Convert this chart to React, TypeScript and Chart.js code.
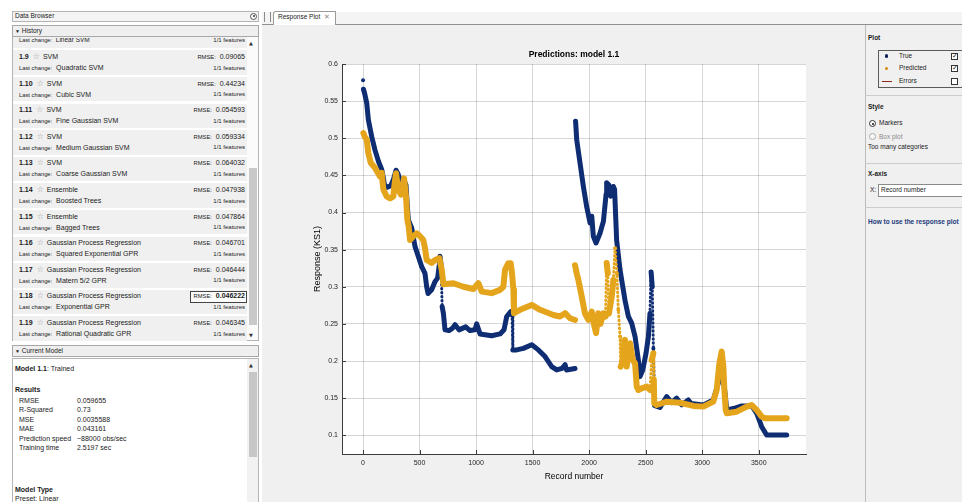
import React, { useEffect, useRef } from "react";
import { Chart, registerables } from "chart.js";
Chart.register(...registerables);

const FONT = '"Liberation Sans", Arial, Helvetica, sans-serif';

// ---------- chart data ----------
const trueRecord = [
  0, null, 4, 15, 33, 47, 77, 106, 136, 165, 177, 190, 215, 245, 270, 292, 310, 327, 357, 380, 392, 401, 431, 460, 489, 519, 548,
  563, 575, 607, 637, 660, 675, 681, 690, 700, 711, 725, 760, 790, 814, 849, 908, 946, 990, 1005, 1035, 1138, 1212, 1247,
  1271, 1306, 1318, 1325, 1359, 1418, 1492, 1551, 1610, 1669, 1713, 1760, 1787, 1800, 1875, null,
  1880, 1890, 1919, 1949, 1978, 2008, 2023, 2037, 2061, 2096, 2126, 2150, 2155, 2175, 2190, 2214, 2225, 2243, 2273, 2288,
  2317, 2347, 2376, 2406, 2435, 2450, 2474, 2503, 2524, 2538, 2548, 2558, 2568, 2580, 2627, 2686, 2730, 2774, 2818, 2877,
  2900, 3010, 3098, 3142, 3157, 3181, 3187, 3202, 3217, 3276, 3349, 3438, 3482, 3526, 3570, 3747,
];
const trueResponse = [
  0.578, null, 0.566, 0.56, 0.547, 0.525, 0.502, 0.484, 0.469, 0.458, 0.449, 0.437, 0.434, 0.436, 0.445, 0.457, 0.452, 0.444, 0.445, 0.437, 0.408, 0.39, 0.379, 0.354, 0.341, 0.327, 0.318,
  0.3, 0.291, 0.296, 0.307, 0.312, 0.33, 0.341, 0.33, 0.273, 0.264, 0.242, 0.241, 0.244, 0.249, 0.242, 0.246, 0.241, 0.242, 0.25, 0.2365, 0.234, 0.2365, 0.242,
  0.26, 0.2665, 0.262, 0.215, 0.215, 0.217, 0.222, 0.215, 0.206, 0.1925, 0.188, 0.19, 0.195, 0.188, 0.19, null,
  0.523, 0.498, 0.467, 0.435, 0.408, 0.386, 0.395, 0.368, 0.359, 0.372, 0.388, 0.425, 0.44, 0.437, 0.422, 0.435, 0.431, 0.363, 0.323, 0.309,
  0.282, 0.26, 0.251, 0.233, 0.2015, 0.179, 0.188, 0.2105, 0.233, 0.264, 0.32, 0.3, 0.217, 0.14, 0.1375, 0.152, 0.144, 0.15, 0.141, 0.1476,
  0.143, 0.1408, 0.1476, 0.17, 0.179, 0.1836, 0.1746, 0.1566, 0.134, 0.136, 0.1395, 0.1395, 0.1296, 0.1116, 0.1004, 0.1004,
];
const predRecord = [
  3, 15, 33, 47, 68, 106, 150, 165, 180, 209, 239, 268, 280, 292, 303, 313, 335, 363, 380, 392, 404, 416, 445, 475, 504, 533,
  548, 563, 607, 637, 675, 696, 711, 799, 888, 976, 1020, 1050, 1138, 1212, 1241, 1256, 1285, 1306, 1318, 1330, 1335, 1389,
  1492, 1566, 1683, 1742, 1787, 1831, 1875, null,
  1875, 1890, 1905, 1934, 1963, 1993, 2023, 2037, 2061, 2081, 2100, 2126, 2145, 2155, 2165, 2175, 2200, 2214, 2229, 2245,
  2258, 2273, 2279, 2303, 2317, 2332, 2362, 2385, 2406, 2421, 2435, 2465, 2509, 2538, 2553, 2568, 2572, 2576, 2597, 2686,
  2804, 2922, 3010, 3098, 3128, 3152, 3172, 3187, 3196, 3208, 3217, 3305, 3394, 3438, 3482, 3526, 3555, 3747,
];
const predResponse = [
  0.507, 0.502, 0.498, 0.48, 0.467, 0.46, 0.4485, 0.4535, 0.431, 0.4216, 0.419, 0.4216, 0.44, 0.453, 0.44, 0.431, 0.424, 0.446, 0.4216, 0.39, 0.381, 0.363, 0.368, 0.372, 0.368, 0.363,
  0.352, 0.336, 0.332, 0.336, 0.3385, 0.323, 0.3035, 0.3048, 0.3, 0.297, 0.3048, 0.2935, 0.2914, 0.2958, 0.3, 0.3228, 0.3318, 0.3318, 0.318, 0.296, 0.2644, 0.269,
  0.2756, 0.269, 0.262, 0.26, 0.2644, 0.2576, 0.2553, null,
  0.329, 0.318, 0.309, 0.287, 0.264, 0.2554, 0.2666, 0.2532, 0.2375, 0.2644, 0.25, 0.2644, 0.26, 0.332, 0.318, 0.264, 0.287, 0.309, 0.352, 0.318,
  0.269, 0.233, 0.1925, 0.2015, 0.2285, 0.1925, 0.224, 0.2015, 0.197, 0.1655, 0.161, 0.1633, 0.1655, 0.161, 0.2015, 0.2105, 0.175, 0.143, 0.1408, 0.1453,
  0.1438, 0.1395, 0.1386, 0.1453, 0.161, 0.197, 0.2127, 0.1925, 0.161, 0.134, 0.1296, 0.1318, 0.1386, 0.1408, 0.134, 0.1251, 0.1229, 0.1229,
];
const xTickValues = [0, 500, 1000, 1500, 2000, 2500, 3000, 3500];
const yTickValues = [0.1, 0.15, 0.2, 0.25, 0.3, 0.35, 0.4, 0.45, 0.5, 0.55, 0.6];
const xLimits = [-186, 3918];
const yLimits = [0.0748, 0.6];
const chartTitle = "Predictions: model 1.1";
const xAxisTitle = "Record number";
const yAxisTitle = "Response (KS1)";

// ---------- side panel data ----------
const historyIds = ["1.9", "1.10", "1.11", "1.12", "1.13", "1.14", "1.15", "1.16", "1.17", "1.18", "1.19"];
const historyTypes = ["SVM", "SVM", "SVM", "SVM", "SVM", "Ensemble", "Ensemble", "Gaussian Process Regression", "Gaussian Process Regression", "Gaussian Process Regression", "Gaussian Process Regression"];
const historyChanges = ["Quadratic SVM", "Cubic SVM", "Fine Gaussian SVM", "Medium Gaussian SVM", "Coarse Gaussian SVM", "Boosted Trees", "Bagged Trees", "Squared Exponential GPR", "Matern 5/2 GPR", "Exponential GPR", "Rational Quadratic GPR"];
const historyRmse = ["0.09065", "0.44234", "0.054593", "0.059334", "0.064032", "0.047938", "0.047864", "0.046701", "0.046444", "0.046222", "0.046345"];
const selectedHistory = "1.18";
const resultLabels = ["RMSE", "R-Squared", "MSE", "MAE", "Prediction speed", "Training time"];
const resultValues = ["0.059655", "0.73", "0.0035588", "0.043161", "~88000 obs/sec", "2.5197 sec"];

const TRUE_COLOR = "#0f2d72";
const PRED_COLOR = "#e4a51c";
const AXIS_COLOR = "#3c3c3c";

function toPoints(xs: (number | null)[], ys: (number | null)[]) {
  return xs.map((x, i) => ({ x: x === null ? NaN : x, y: ys[i] }));
}

type TP = {
  x: number; y: number; size?: number; bold?: boolean; color?: string; right?: boolean;
  children?: React.ReactNode; style?: React.CSSProperties;
};
function T({ x, y, size = 7, bold = false, color = "#1a1a1a", right = false, children, style }: TP) {
  const s: React.CSSProperties = {
    position: "absolute", top: y - size * 0.62, lineHeight: `${size * 1.2}px`, fontSize: size,
    fontWeight: bold ? 700 : 400, color, whiteSpace: "nowrap", fontFamily: FONT,
  };
  if (right) { s.left = x - 240; s.width = 240; s.textAlign = "right"; } else { s.left = x; }
  return <div style={{ ...s, ...style }}>{children}</div>;
}
function B({ x, y, w, h, style }: { x: number; y: number; w: number; h: number; style?: React.CSSProperties }) {
  return <div style={{ position: "absolute", left: x, top: y, width: w, height: h, boxSizing: "border-box", ...style }} />;
}

function isJump(s: any) {
  const dx = Math.abs(s.p1.x - s.p0.x), dy = Math.abs(s.p1.y - s.p0.y);
  return dy > 24 && dx < 1.9;
}

function ResponseChart() {
  const ref = useRef<HTMLCanvasElement | null>(null);
  useEffect(() => {
    if (!ref.current) return;
    const bg = {
      id: "bg",
      beforeDraw(c: any) {
        const { ctx, chartArea: a } = c;
        ctx.save();
        ctx.fillStyle = "#f0f0f0";
        ctx.fillRect(0, 0, c.width, c.height);
        ctx.fillStyle = "#ffffff";
        ctx.fillRect(a.left, a.top, a.right - a.left, a.bottom - a.top);
        ctx.restore();
      },
    };
    const deco = {
      id: "deco",
      afterDraw(c: any) {
        const { ctx, chartArea: a, scales } = c;
        ctx.save();
        ctx.strokeStyle = AXIS_COLOR;
        ctx.lineWidth = 1;
        ctx.beginPath();
        for (const v of xTickValues) {
          const px = Math.round(scales.x.getPixelForValue(v)) + 0.5;
          ctx.moveTo(px, a.bottom); ctx.lineTo(px, a.bottom - 4);
        }
        for (const v of yTickValues) {
          const py = Math.round(scales.y.getPixelForValue(v)) + 0.5;
          ctx.moveTo(a.left, py); ctx.lineTo(a.left + 4, py);
        }
        ctx.stroke();
        ctx.fillStyle = "#000";
        ctx.font = `bold 8.5px ${FONT}`;
        ctx.textAlign = "center";
        ctx.textBaseline = "middle";
        ctx.fillText(chartTitle, (a.left + a.right) / 2, a.top - 9);
        ctx.restore();
      },
    };
    const seg = {
      borderWidth: (s: any) => (isJump(s) ? 3 : undefined),
      borderDash: (s: any) => (isJump(s) ? [0.5, 3.5] : undefined),
    };
    const chart = new Chart(ref.current, {
      type: "scatter",
      data: {
        datasets: [
          {
            label: "Predicted", order: 0, data: toPoints(predRecord, predResponse) as any,
            showLine: true, spanGaps: false, borderColor: PRED_COLOR, backgroundColor: PRED_COLOR,
            borderWidth: 6, pointRadius: 2, pointBorderWidth: 0, borderJoinStyle: "round", borderCapStyle: "round",
            segment: seg as any,
          },
          {
            label: "True", order: 1, data: toPoints(trueRecord, trueResponse) as any,
            showLine: true, spanGaps: false, borderColor: TRUE_COLOR, backgroundColor: TRUE_COLOR,
            borderWidth: 5, pointRadius: 2, pointBorderWidth: 0, borderJoinStyle: "round", borderCapStyle: "round",
            segment: seg as any,
          },
        ],
      },
      options: {
        animation: false, responsive: false, devicePixelRatio: 1,
        layout: { padding: { left: 0, top: 39, right: 56, bottom: 0 } },
        plugins: { legend: { display: false }, tooltip: { enabled: false }, title: { display: false } },
        scales: {
          x: {
            type: "linear", min: xLimits[0], max: xLimits[1],
            afterFit: (s: any) => { s.height = 48; },
            afterBuildTicks: (s: any) => { s.ticks = xTickValues.map((v) => ({ value: v })); },
            ticks: { font: { size: 7, family: FONT }, color: "#262626", padding: 5, maxRotation: 0, autoSkip: false, callback: (v: any) => String(v) },
            grid: { color: "rgba(0,0,0,0.16)", drawTicks: false },
            border: { display: true, color: AXIS_COLOR, width: 1 },
            title: { display: true, text: xAxisTitle, font: { size: 8.5, family: FONT }, color: "#000", padding: { top: 0, bottom: 20 } },
          },
          y: {
            type: "linear", min: yLimits[0], max: yLimits[1],
            afterFit: (s: any) => { s.width = 77; },
            afterBuildTicks: (s: any) => { s.ticks = yTickValues.map((v) => ({ value: v })); },
            ticks: { font: { size: 7, family: FONT }, color: "#262626", padding: 4, autoSkip: false, callback: (v: any) => String(Math.round(Number(v) * 100) / 100) },
            grid: { color: "rgba(0,0,0,0.16)", drawTicks: false },
            border: { display: true, color: AXIS_COLOR, width: 1 },
            title: { display: true, text: yAxisTitle, font: { size: 9, family: FONT }, color: "#000", padding: { top: 47, bottom: 0 } },
          },
        },
      },
      plugins: [bg, deco],
    } as any);
    return () => chart.destroy();
  }, []);
  return (
    <canvas ref={ref} width={597} height={477}
      style={{ position: "absolute", left: 265, top: 25, width: 597, height: 477, display: "block" }} />
  );
}

function Check({ x, y, checked }: { x: number; y: number; checked: boolean }) {
  return (
    <div style={{ position: "absolute", left: x, top: y, width: 7, height: 7, border: "1px solid #333", boxSizing: "border-box", background: "#fff", fontSize: 7, lineHeight: "5px", textAlign: "center", color: "#222", fontFamily: "DejaVu Sans" }}>
      {checked ? "✓" : ""}
    </div>
  );
}

export default function App() {
  const pitch = 26.6;
  return (
    <div style={{ position: "fixed", left: 0, top: 0, width: 962, height: 502, overflow: "hidden", background: "#ffffff", fontFamily: FONT }}>
      {/* Left: Data Browser */}
      <B x={12} y={11} w={247} h={11} style={{ background: "#f4f4f4", border: "1px solid #b4b4b4" }} />
      <T x={15} y={16.5} size={6.5}>Data Browser</T>
      <div style={{ position: "absolute", left: 250, top: 12.5, width: 7, height: 7, borderRadius: "50%", border: "1px solid #555", boxSizing: "border-box", background: "#fff" }}>
        <div style={{ position: "absolute", left: 1.5, top: 1.5, width: 2, height: 2, borderRadius: "50%", background: "#333" }} />
      </div>
      <B x={12} y={25} w={247} h={12} style={{ background: "#efefef", border: "1px solid #a8a8a8" }} />
      <T x={15} y={31} size={6.5}><span style={{ fontSize: 5 }}>▼</span> History</T>

      {/* History list */}
      <B x={12} y={37} w={247} h={304} style={{ background: "#fff", borderLeft: "1px solid #b4b4b4", borderRight: "1px solid #b4b4b4", borderBottom: "1px solid #b4b4b4" }} />
      <B x={13} y={37} w={234} h={11} style={{ background: "#f0f0f0" }} />
      <div style={{ position: "absolute", left: 13, top: 38, width: 234, height: 9, overflow: "hidden" }}>
        <T x={6} y={2.5} size={6.5}><span style={{ fontSize: 5.8 }}>Last change:</span>&nbsp; Linear SVM</T>
        <T x={232} y={2.5} size={6} right>1/1 features</T>
      </div>
      {historyIds.map((id, i) => {
        const c = 57.3 + pitch * i;
        return (
          <React.Fragment key={id}>
            <B x={13} y={c - 7} w={234} h={24.5} style={{ background: "#f0f0f0" }} />
            <T x={19} y={c} size={7}>
              <b>{id}</b>
              <span style={{ color: "#9a9a9a", fontFamily: "DejaVu Sans", fontSize: 8, margin: "0 3px 0 4px" }}>☆</span>
              {historyTypes[i]}
            </T>
            <T x={19} y={c + 11} size={7}><span style={{ fontSize: 5.8 }}>Last change:</span>&nbsp; {historyChanges[i]}</T>
            {id === selectedHistory && <B x={190} y={c - 6} w={57} h={12.5} style={{ border: "1px solid #444", background: "#fbfbfb" }} />}
            <T x={245} y={c} size={7} right><span style={{ fontSize: 5.8 }}>RMSE:</span>&nbsp; {id === selectedHistory ? <b>{historyRmse[i]}</b> : historyRmse[i]}</T>
            <T x={245} y={c + 11} size={6} right>1/1 features</T>
          </React.Fragment>
        );
      })}
      {/* list scrollbar */}
      <B x={247} y={37} w={11} h={303} style={{ background: "#fbfbfb" }} />
      <T x={249} y={43.5} size={5} color="#333" style={{ fontFamily: "DejaVu Sans" }}>▲</T>
      <B x={249} y={168} w={8} h={157} style={{ background: "#c9c9c9" }} />
      <T x={249} y={335} size={5} color="#333" style={{ fontFamily: "DejaVu Sans" }}>▼</T>

      {/* Current Model */}
      <B x={12} y={345} w={247} h={12} style={{ background: "#efefef", border: "1px solid #a8a8a8" }} />
      <T x={15} y={351} size={6.5}><span style={{ fontSize: 5 }}>▼</span> Current Model</T>
      <B x={12} y={358} w={247} h={150} style={{ background: "#fff", border: "1px solid #b4b4b4" }} />
      <B x={247} y={359} w={11} h={143} style={{ background: "#f2f2f2" }} />
      <T x={249} y={365} size={5} color="#333" style={{ fontFamily: "DejaVu Sans" }}>▲</T>
      <B x={249} y={372} w={8} h={85} style={{ background: "#c6c6c6" }} />
      <T x={15} y={369.3} size={7}><b>Model 1.1</b>: Trained</T>
      <T x={15} y={390} size={7} bold>Results</T>
      {resultLabels.map((l, i) => (
        <React.Fragment key={l}>
          <T x={19} y={401 + 9.5 * i} size={7}>{l}</T>
          <T x={77} y={401 + 9.5 * i} size={7}>{resultValues[i]}</T>
        </React.Fragment>
      ))}
      <T x={15} y={490.7} size={7} bold>Model Type</T>
      <T x={15} y={499.5} size={7}>Preset: Linear</T>

      {/* Tab strip */}
      <B x={262} y={12} w={700} h={12} style={{ background: "#f4f4f4" }} />
      <B x={264} y={12} w={1} h={10} style={{ background: "#8a8a8a" }} />
      <B x={270} y={12} w={1} h={10} style={{ background: "#8a8a8a" }} />
      <B x={273} y={11} w={63} h={14} style={{ background: "#ffffff", border: "1px solid #9a9a9a", borderBottom: "none", borderTopLeftRadius: 3 }} />
      <T x={278} y={17.5} size={6.5}>Response Plot</T>
      <T x={324} y={17.5} size={6.5} color="#888">✕</T>
      <B x={262} y={24} w={11} h={1} style={{ background: "#8f8f8f" }} />
      <B x={336} y={24} w={626} h={1} style={{ background: "#8f8f8f" }} />

      {/* Plot */}
      <B x={262} y={25} w={604} h={477} style={{ background: "#f0f0f0" }} />
      <ResponseChart />

      {/* Right panel */}
      <B x={865} y={25} w={97} h={477} style={{ background: "#f0f0f0", borderLeft: "1px solid #bcbcbc" }} />
      <T x={868} y={38.3} size={6.5} bold>Plot</T>
      <B x={878} y={50} w={90} h={38} style={{ border: "1px solid #5a5a5a" }} />
      <div style={{ position: "absolute", left: 884.5, top: 54, width: 3.5, height: 3.5, borderRadius: "50%", background: "#0a1f55" }} />
      <T x={899} y={55.7} size={6.5}>True</T>
      <Check x={951} y={52.5} checked={true} />
      <div style={{ position: "absolute", left: 884.5, top: 66.5, width: 3.5, height: 3.5, borderRadius: "50%", background: "#d48a0c" }} />
      <T x={899} y={68.3} size={6.5}>Predicted</T>
      <Check x={951} y={65} checked={true} />
      <B x={882} y={80.5} w={10} h={1.3} style={{ background: "#8b2a18" }} />
      <T x={899} y={81} size={6.5}>Errors</T>
      <Check x={951} y={77.5} checked={false} />
      <B x={865} y={95} w={97} h={1} style={{ background: "#cdcdcd" }} />
      <T x={868} y={107} size={6.5} bold>Style</T>
      <div style={{ position: "absolute", left: 869, top: 120, width: 7, height: 7, borderRadius: "50%", border: "1px solid #333", boxSizing: "border-box", background: "#fff" }}>
        <div style={{ position: "absolute", left: 1.5, top: 1.5, width: 2, height: 2, borderRadius: "50%", background: "#111" }} />
      </div>
      <T x={879} y={123.5} size={6.5}>Markers</T>
      <div style={{ position: "absolute", left: 869, top: 133, width: 7, height: 7, borderRadius: "50%", border: "1px solid #aaa", boxSizing: "border-box", background: "#f8f8f8" }} />
      <T x={879} y={136.7} size={6.5} color="#8a8a8a">Box plot</T>
      <T x={868} y={147.3} size={6.5}>Too many categories</T>
      <B x={865} y={163} w={97} h={1} style={{ background: "#cdcdcd" }} />
      <T x={868} y={174} size={6.5} bold>X-axis</T>
      <T x={870} y={190.5} size={6.5}>X:</T>
      <B x={878} y={184} w={90} h={13} style={{ background: "#fff", border: "1px solid #8a8a8a" }} />
      <T x={881} y={190.5} size={6.5}>Record number</T>
      <B x={865} y={207} w={97} h={1} style={{ background: "#cdcdcd" }} />
      <T x={868} y={221.7} size={6.5} bold color="#1c3a78">How to use the response plot</T>
    </div>
  );
}
